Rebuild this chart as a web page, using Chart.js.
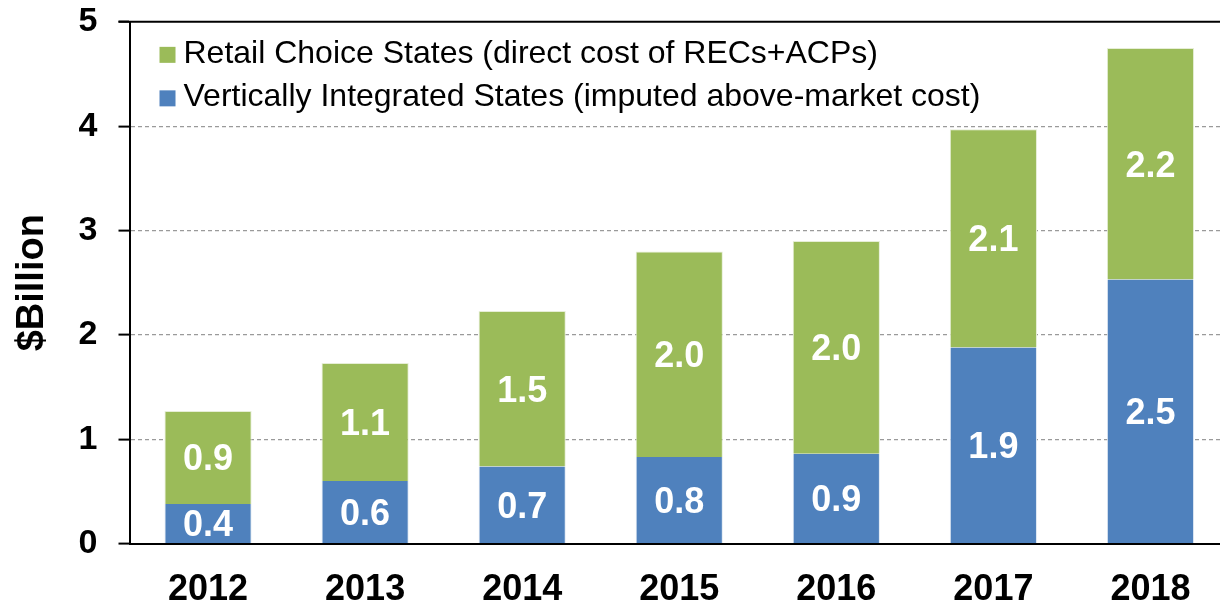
<!DOCTYPE html>
<html>
<head>
<meta charset="utf-8">
<script src="https://cdn.jsdelivr.net/npm/chart.js@4"></script>
<style>
  html, body { margin: 0; padding: 0; background: #fff; overflow: hidden; }
  #wrap { width: 1229px; height: 607px; overflow: hidden; }
</style>
</head>
<body>
<div id="wrap"><canvas id="rpsChart" width="1229" height="636"></canvas></div>
<script>
// Data for the chart
const years = ['2012', '2013', '2014', '2015', '2016', '2017', '2018'];
const verticalValues = [0.38, 0.60, 0.74, 0.83, 0.86, 1.88, 2.53];
const retailValues = [0.89, 1.13, 1.49, 1.97, 2.04, 2.09, 2.22];
const yTicks = [0, 1, 2, 3, 4, 5];

const fontFamily = '"Liberation Sans", Arial, sans-serif';

// Value labels drawn in the middle of each segment
const segmentLabels = {
    id: 'segmentLabels',
    afterDatasetsDraw(chart) {
        const ctx = chart.ctx;
        ctx.save();
        ctx.fillStyle = '#fff';
        ctx.font = 'bold 36px ' + fontFamily;
        ctx.textAlign = 'center';
        ctx.textBaseline = 'middle';
        chart.data.datasets.forEach((ds, i) => {
            chart.getDatasetMeta(i).data.forEach((bar, j) => {
                const mid = (bar.y + bar.base) / 2;
                ctx.fillText(ds.data[j].toFixed(1), bar.x, mid + 3);
            });
        });
        ctx.restore();
    }
};

// Legend inside the plot, top left, plus the solid top frame line
const insideLegend = {
    id: 'insideLegend',
    afterDraw(chart) {
        const ctx = chart.ctx;
        const area = chart.chartArea;
        const items = chart.data.datasets.slice().reverse();
        ctx.save();
        ctx.font = '32px ' + fontFamily;
        ctx.textBaseline = 'middle';
        items.forEach((ds, i) => {
            const y = area.top + 32 + i * 43.5;
            ctx.fillStyle = ds.backgroundColor;
            ctx.fillRect(area.left + 30, y - 7, 16, 16);
            ctx.fillStyle = '#000';
            ctx.fillText(ds.label, area.left + 54, y);
        });
        ctx.strokeStyle = '#000';
        ctx.lineWidth = 2;
        ctx.beginPath();
        ctx.moveTo(area.left - 11, area.top);
        ctx.lineTo(area.right, area.top);
        ctx.stroke();
        ctx.restore();
    }
};

const config = {
    type: 'bar',
    data: {
        labels: years,
        datasets: [
            {
                label: 'Vertically Integrated States (imputed above-market cost)',
                data: verticalValues,
                backgroundColor: '#4F81BD',
                borderColor: '#dfe8f3',
                borderWidth: { left: 1, right: 1, top: 0, bottom: 0 },
                borderSkipped: false
            },
            {
                label: 'Retail Choice States (direct cost of RECs+ACPs)',
                data: retailValues,
                backgroundColor: '#9BBB59',
                borderColor: '#e6eed6',
                borderWidth: { left: 1, right: 1, top: 1, bottom: 0 },
                borderSkipped: false
            }
        ]
    },
    options: {
        responsive: false,
        animation: false,
        layout: { padding: { top: 1, right: 0, left: 0, bottom: 0 } },
        datasets: { bar: { barPercentage: 0.555, categoryPercentage: 1 } },
        plugins: { legend: { display: false }, tooltip: { enabled: false } },
        scales: {
            x: {
                stacked: true,
                grid: { display: false, drawTicks: false },
                border: { color: '#000', width: 2 },
                ticks: {
                    color: '#000',
                    font: { family: fontFamily, size: 36, weight: 'bold', lineHeight: 0.9 },
                    padding: 30
                }
            },
            y: {
                stacked: true,
                min: 0,
                max: 5,
                afterBuildTicks: axis => { axis.ticks = yTicks.map(v => ({ value: v })); },
                grid: {
                    color: c => (c.tick && c.tick.value > 0 && c.tick.value < 5) ? '#9a9a9a' : 'rgba(0,0,0,0)',
                    lineWidth: 1.2,
                    tickColor: '#000',
                    tickLength: 11,
                    tickWidth: 2
                },
                border: { color: '#000', width: 2, dash: [4, 3] },
                ticks: {
                    color: '#000',
                    font: { family: fontFamily, size: 34, weight: 'bold', lineHeight: 0.05 },
                    padding: 21
                },
                title: {
                    display: true,
                    text: '$Billion',
                    color: '#000',
                    font: { family: fontFamily, size: 38, weight: 'bold', lineHeight: 1.2 },
                    padding: { top: 10, bottom: 2 }
                }
            }
        }
    },
    plugins: [segmentLabels, insideLegend]
};

window.onload = function() {
    const ctx = document.getElementById('rpsChart').getContext('2d');
    new Chart(ctx, config);
};
</script>
</body>
</html>
